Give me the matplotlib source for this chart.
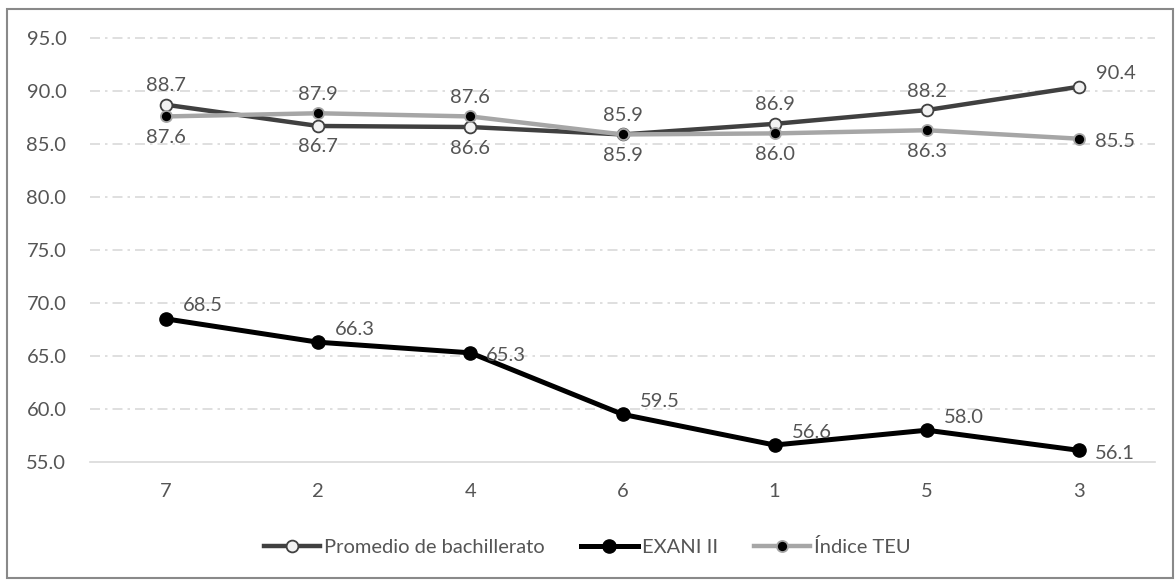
import matplotlib
matplotlib.use("Agg")
import matplotlib.pyplot as plt
from matplotlib.patches import Rectangle

plt.rcParams['font.family'] = ['Lato', 'DejaVu Sans']

# data
categories = ['7', '2', '4', '6', '1', '5', '3']
promedio = [88.7, 86.7, 86.6, 85.9, 86.9, 88.2, 90.4]
exani = [68.5, 66.3, 65.3, 59.5, 56.6, 58.0, 56.1]
teu = [87.6, 87.9, 87.6, 85.9, 86.0, 86.3, 85.5]

# label placement per point
prom_pos = ['up', 'down', 'down', 'up', 'up', 'up', 'upright']
teu_pos = ['down', 'up', 'up', 'down', 'down', 'down', 'right']
exani_pos = ['upright', 'upright', 'right', 'upright', 'upright', 'upright', 'right']

OFFS = {
    'up': ((0, 19), 'center', 'center'),
    'down': ((0, -21), 'center', 'center'),
    'upright': ((17, 13), 'left', 'center'),
    'right': ((16, -3), 'left', 'center'),
}

TXT = '#555555'
FS = 14.5

fig = plt.figure(figsize=(11.75, 5.8), dpi=100)
ax = fig.add_axes([90 / 1175, 1 - 462 / 580, (1155 - 90) / 1175, (462 - 38) / 580])

x = list(range(len(categories)))

ax.plot(x, promedio, color='#404040', lw=3.2, marker='o', ms=8.5,
        mfc='#f2f2f2', mec='#404040', mew=1.3, label='Promedio de bachillerato', zorder=3)
ax.plot(x, exani, color='#000000', lw=3.6, marker='o', ms=9.5,
        mfc='#000000', mec='#000000', label='EXANI II', zorder=3)
ax.plot(x, teu, color='#a6a6a6', lw=3.2, marker='o', ms=8,
        mfc='#000000', mec='#a6a6a6', mew=1.3, label='Índice TEU', zorder=4)

for series, pos in ((promedio, prom_pos), (teu, teu_pos), (exani, exani_pos)):
    for i, (v, p) in enumerate(zip(series, pos)):
        off, ha, va = OFFS[p]
        ax.annotate(f'{v:.1f}', (i, v), xytext=off, textcoords='offset pixels',
                    ha=ha, va=va, fontsize=FS, color=TXT, zorder=5)

ax.set_xlim(-0.5, len(categories) - 0.5)
ax.set_ylim(55, 95)
ax.set_yticks(range(55, 96, 5))
ax.set_yticklabels([f'{v:.1f}' for v in range(55, 96, 5)])
ax.set_xticks(x)
ax.set_xticklabels(categories)
ax.tick_params(axis='both', length=0, labelsize=FS, labelcolor=TXT)
ax.tick_params(axis='y', pad=17)
ax.tick_params(axis='x', pad=15)

for s in ('top', 'right', 'left'):
    ax.spines[s].set_visible(False)
ax.spines['bottom'].set_color('#d9d9d9')
ax.spines['bottom'].set_linewidth(1.2)

for v in range(60, 96, 5):
    ax.axhline(v, color='#d9d9d9', lw=1.2, ls=(0, (6, 3, 1.5, 3)), zorder=1, clip_on=False)

fig.legend(loc='center', bbox_to_anchor=(0.5, 1 - 547 / 580), ncol=3, frameon=False,
           fontsize=FS, labelcolor=TXT, handlelength=2.8, handletextpad=0.2,
           columnspacing=1.8)

fig.patches.append(Rectangle((7 / 1175, 2 / 580), 1166 / 1175, 569 / 580,
                             transform=fig.transFigure, fill=False,
                             edgecolor='#898989', lw=1.5))

fig.savefig('out.png', dpi=100)
